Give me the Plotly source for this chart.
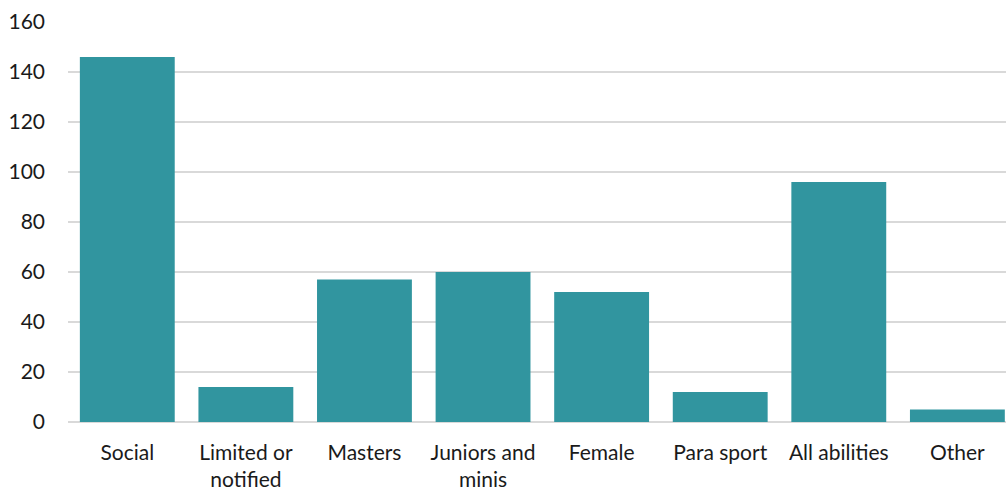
import plotly.graph_objects as go

categories = ["Social", "Limited or<br>notified", "Masters", "Juniors and<br>minis",
              "Female", "Para sport", "All abilities", "Other"]
counts = [146, 14, 57, 60, 52, 12, 96, 5]
y_ticks = [0, 20, 40, 60, 80, 100, 120, 140, 160]

fig = go.Figure(go.Bar(
    x=list(range(len(categories))),
    y=counts,
    marker=dict(color="#31959f", line=dict(width=0)),
))

fig.update_layout(
    width=1006, height=494,
    margin=dict(l=68, r=0, t=22, b=72),
    paper_bgcolor="white", plot_bgcolor="white",
    bargap=0.2,
    showlegend=False,
    font=dict(family="Lato, 'Open Sans', sans-serif", size=21, color="#1a1a1a"),
)
fig.update_xaxes(
    range=[-0.5, 7.41],
    tickvals=list(range(len(categories))),
    ticktext=categories,
    showgrid=False, zeroline=False,
    showline=False, ticks="",
    ticklabelstandoff=16,
)
fig.update_yaxes(
    range=[0, 160],
    tickvals=y_ticks,
    showgrid=True, gridcolor="#d9d9d9", gridwidth=1.5,
    zeroline=True, zerolinecolor="#d9d9d9", zerolinewidth=2,
    showline=False, ticks="",
    ticklabelstandoff=22,
)

fig.write_html("out.html")
